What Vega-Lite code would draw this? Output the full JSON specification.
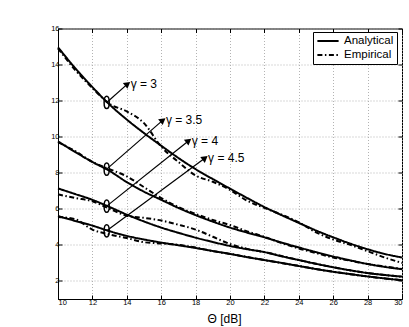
{
  "$schema": "https://vega.github.io/schema/vega-lite/v6.json",
  "width": 344,
  "height": 270.5,
  "autosize": "none",
  "padding": {"left": 58, "top": 28.5, "right": 7, "bottom": 28},
  "background": "white",
  "config": {
    "font": "Liberation Sans",
    "view": {"stroke": "black", "strokeWidth": 1},
    "axis": {
      "domainColor": "black",
      "tickColor": "black",
      "labelColor": "black",
      "labelFontSize": 7.5,
      "labelFont": "Liberation Sans",
      "labelOverlap": false,
      "labelBound": false,
      "tickSize": -4,
      "grid": true,
      "gridColor": "#a0a0a0",
      "gridDash": [1, 2],
      "gridWidth": 0.8,
      "titleColor": "black",
      "titleFontWeight": "normal"
    }
  },
  "resolve": {"axis": {"x": "independent", "y": "independent"}},
  "datasets": {
    "curves": [
      {"x": 10, "y": 14.96, "gamma": "3", "type": "Analytical"},
      {"x": 11, "y": 13.8, "gamma": "3", "type": "Analytical"},
      {"x": 12, "y": 12.75, "gamma": "3", "type": "Analytical"},
      {"x": 13, "y": 11.78, "gamma": "3", "type": "Analytical"},
      {"x": 14, "y": 10.95, "gamma": "3", "type": "Analytical"},
      {"x": 15, "y": 10.2, "gamma": "3", "type": "Analytical"},
      {"x": 16, "y": 9.5, "gamma": "3", "type": "Analytical"},
      {"x": 17, "y": 8.82, "gamma": "3", "type": "Analytical"},
      {"x": 18, "y": 8.2, "gamma": "3", "type": "Analytical"},
      {"x": 19, "y": 7.65, "gamma": "3", "type": "Analytical"},
      {"x": 20, "y": 7.12, "gamma": "3", "type": "Analytical"},
      {"x": 21, "y": 6.6, "gamma": "3", "type": "Analytical"},
      {"x": 22, "y": 6.1, "gamma": "3", "type": "Analytical"},
      {"x": 23, "y": 5.65, "gamma": "3", "type": "Analytical"},
      {"x": 24, "y": 5.22, "gamma": "3", "type": "Analytical"},
      {"x": 25, "y": 4.8, "gamma": "3", "type": "Analytical"},
      {"x": 26, "y": 4.42, "gamma": "3", "type": "Analytical"},
      {"x": 27, "y": 4.07, "gamma": "3", "type": "Analytical"},
      {"x": 28, "y": 3.76, "gamma": "3", "type": "Analytical"},
      {"x": 29, "y": 3.5, "gamma": "3", "type": "Analytical"},
      {"x": 30, "y": 3.3, "gamma": "3", "type": "Analytical"},

      {"x": 10, "y": 9.74, "gamma": "3.5", "type": "Analytical"},
      {"x": 11, "y": 9.15, "gamma": "3.5", "type": "Analytical"},
      {"x": 12, "y": 8.6, "gamma": "3.5", "type": "Analytical"},
      {"x": 13, "y": 8.1, "gamma": "3.5", "type": "Analytical"},
      {"x": 14, "y": 7.48, "gamma": "3.5", "type": "Analytical"},
      {"x": 15, "y": 6.95, "gamma": "3.5", "type": "Analytical"},
      {"x": 16, "y": 6.5, "gamma": "3.5", "type": "Analytical"},
      {"x": 17, "y": 6.05, "gamma": "3.5", "type": "Analytical"},
      {"x": 18, "y": 5.65, "gamma": "3.5", "type": "Analytical"},
      {"x": 19, "y": 5.29, "gamma": "3.5", "type": "Analytical"},
      {"x": 20, "y": 4.96, "gamma": "3.5", "type": "Analytical"},
      {"x": 21, "y": 4.68, "gamma": "3.5", "type": "Analytical"},
      {"x": 22, "y": 4.42, "gamma": "3.5", "type": "Analytical"},
      {"x": 23, "y": 4.13, "gamma": "3.5", "type": "Analytical"},
      {"x": 24, "y": 3.86, "gamma": "3.5", "type": "Analytical"},
      {"x": 25, "y": 3.6, "gamma": "3.5", "type": "Analytical"},
      {"x": 26, "y": 3.36, "gamma": "3.5", "type": "Analytical"},
      {"x": 27, "y": 3.14, "gamma": "3.5", "type": "Analytical"},
      {"x": 28, "y": 2.94, "gamma": "3.5", "type": "Analytical"},
      {"x": 29, "y": 2.78, "gamma": "3.5", "type": "Analytical"},
      {"x": 30, "y": 2.65, "gamma": "3.5", "type": "Analytical"},

      {"x": 10, "y": 7.13, "gamma": "4", "type": "Analytical"},
      {"x": 11, "y": 6.82, "gamma": "4", "type": "Analytical"},
      {"x": 12, "y": 6.5, "gamma": "4", "type": "Analytical"},
      {"x": 13, "y": 6.1, "gamma": "4", "type": "Analytical"},
      {"x": 14, "y": 5.68, "gamma": "4", "type": "Analytical"},
      {"x": 15, "y": 5.3, "gamma": "4", "type": "Analytical"},
      {"x": 16, "y": 4.96, "gamma": "4", "type": "Analytical"},
      {"x": 17, "y": 4.67, "gamma": "4", "type": "Analytical"},
      {"x": 18, "y": 4.4, "gamma": "4", "type": "Analytical"},
      {"x": 19, "y": 4.16, "gamma": "4", "type": "Analytical"},
      {"x": 20, "y": 3.94, "gamma": "4", "type": "Analytical"},
      {"x": 21, "y": 3.76, "gamma": "4", "type": "Analytical"},
      {"x": 22, "y": 3.6, "gamma": "4", "type": "Analytical"},
      {"x": 23, "y": 3.37, "gamma": "4", "type": "Analytical"},
      {"x": 24, "y": 3.16, "gamma": "4", "type": "Analytical"},
      {"x": 25, "y": 2.95, "gamma": "4", "type": "Analytical"},
      {"x": 26, "y": 2.76, "gamma": "4", "type": "Analytical"},
      {"x": 27, "y": 2.59, "gamma": "4", "type": "Analytical"},
      {"x": 28, "y": 2.44, "gamma": "4", "type": "Analytical"},
      {"x": 29, "y": 2.33, "gamma": "4", "type": "Analytical"},
      {"x": 30, "y": 2.24, "gamma": "4", "type": "Analytical"},

      {"x": 10, "y": 5.6, "gamma": "4.5", "type": "Analytical"},
      {"x": 11, "y": 5.33, "gamma": "4.5", "type": "Analytical"},
      {"x": 12, "y": 5.07, "gamma": "4.5", "type": "Analytical"},
      {"x": 13, "y": 4.76, "gamma": "4.5", "type": "Analytical"},
      {"x": 14, "y": 4.5, "gamma": "4.5", "type": "Analytical"},
      {"x": 15, "y": 4.3, "gamma": "4.5", "type": "Analytical"},
      {"x": 16, "y": 4.13, "gamma": "4.5", "type": "Analytical"},
      {"x": 17, "y": 3.98, "gamma": "4.5", "type": "Analytical"},
      {"x": 18, "y": 3.83, "gamma": "4.5", "type": "Analytical"},
      {"x": 19, "y": 3.66, "gamma": "4.5", "type": "Analytical"},
      {"x": 20, "y": 3.5, "gamma": "4.5", "type": "Analytical"},
      {"x": 21, "y": 3.32, "gamma": "4.5", "type": "Analytical"},
      {"x": 22, "y": 3.16, "gamma": "4.5", "type": "Analytical"},
      {"x": 23, "y": 3.0, "gamma": "4.5", "type": "Analytical"},
      {"x": 24, "y": 2.83, "gamma": "4.5", "type": "Analytical"},
      {"x": 25, "y": 2.66, "gamma": "4.5", "type": "Analytical"},
      {"x": 26, "y": 2.51, "gamma": "4.5", "type": "Analytical"},
      {"x": 27, "y": 2.38, "gamma": "4.5", "type": "Analytical"},
      {"x": 28, "y": 2.25, "gamma": "4.5", "type": "Analytical"},
      {"x": 29, "y": 2.14, "gamma": "4.5", "type": "Analytical"},
      {"x": 30, "y": 2.04, "gamma": "4.5", "type": "Analytical"},

      {"x": 10, "y": 14.9, "gamma": "3", "type": "Empirical"},
      {"x": 11, "y": 13.7, "gamma": "3", "type": "Empirical"},
      {"x": 12, "y": 12.7, "gamma": "3", "type": "Empirical"},
      {"x": 13, "y": 11.82, "gamma": "3", "type": "Empirical"},
      {"x": 14, "y": 11.4, "gamma": "3", "type": "Empirical"},
      {"x": 15, "y": 10.75, "gamma": "3", "type": "Empirical"},
      {"x": 16, "y": 9.45, "gamma": "3", "type": "Empirical"},
      {"x": 17, "y": 8.6, "gamma": "3", "type": "Empirical"},
      {"x": 18, "y": 7.85, "gamma": "3", "type": "Empirical"},
      {"x": 19, "y": 7.5, "gamma": "3", "type": "Empirical"},
      {"x": 20, "y": 7.05, "gamma": "3", "type": "Empirical"},
      {"x": 21, "y": 6.45, "gamma": "3", "type": "Empirical"},
      {"x": 22, "y": 6.05, "gamma": "3", "type": "Empirical"},
      {"x": 23, "y": 5.68, "gamma": "3", "type": "Empirical"},
      {"x": 24, "y": 5.25, "gamma": "3", "type": "Empirical"},
      {"x": 25, "y": 4.7, "gamma": "3", "type": "Empirical"},
      {"x": 26, "y": 4.3, "gamma": "3", "type": "Empirical"},
      {"x": 27, "y": 4.0, "gamma": "3", "type": "Empirical"},
      {"x": 28, "y": 3.65, "gamma": "3", "type": "Empirical"},
      {"x": 29, "y": 3.3, "gamma": "3", "type": "Empirical"},
      {"x": 30, "y": 3.0, "gamma": "3", "type": "Empirical"},

      {"x": 10, "y": 9.7, "gamma": "3.5", "type": "Empirical"},
      {"x": 11, "y": 9.2, "gamma": "3.5", "type": "Empirical"},
      {"x": 12, "y": 8.6, "gamma": "3.5", "type": "Empirical"},
      {"x": 13, "y": 8.2, "gamma": "3.5", "type": "Empirical"},
      {"x": 14, "y": 7.8, "gamma": "3.5", "type": "Empirical"},
      {"x": 15, "y": 7.2, "gamma": "3.5", "type": "Empirical"},
      {"x": 16, "y": 6.6, "gamma": "3.5", "type": "Empirical"},
      {"x": 17, "y": 6.1, "gamma": "3.5", "type": "Empirical"},
      {"x": 18, "y": 5.72, "gamma": "3.5", "type": "Empirical"},
      {"x": 19, "y": 5.38, "gamma": "3.5", "type": "Empirical"},
      {"x": 20, "y": 5.1, "gamma": "3.5", "type": "Empirical"},
      {"x": 21, "y": 4.75, "gamma": "3.5", "type": "Empirical"},
      {"x": 22, "y": 4.45, "gamma": "3.5", "type": "Empirical"},
      {"x": 23, "y": 4.1, "gamma": "3.5", "type": "Empirical"},
      {"x": 24, "y": 3.8, "gamma": "3.5", "type": "Empirical"},
      {"x": 25, "y": 3.55, "gamma": "3.5", "type": "Empirical"},
      {"x": 26, "y": 3.3, "gamma": "3.5", "type": "Empirical"},
      {"x": 27, "y": 3.12, "gamma": "3.5", "type": "Empirical"},
      {"x": 28, "y": 2.94, "gamma": "3.5", "type": "Empirical"},
      {"x": 29, "y": 2.8, "gamma": "3.5", "type": "Empirical"},
      {"x": 30, "y": 2.67, "gamma": "3.5", "type": "Empirical"},

      {"x": 10, "y": 6.8, "gamma": "4", "type": "Empirical"},
      {"x": 11, "y": 6.6, "gamma": "4", "type": "Empirical"},
      {"x": 12, "y": 6.42, "gamma": "4", "type": "Empirical"},
      {"x": 13, "y": 6.0, "gamma": "4", "type": "Empirical"},
      {"x": 14, "y": 5.62, "gamma": "4", "type": "Empirical"},
      {"x": 15, "y": 5.5, "gamma": "4", "type": "Empirical"},
      {"x": 16, "y": 5.35, "gamma": "4", "type": "Empirical"},
      {"x": 17, "y": 5.12, "gamma": "4", "type": "Empirical"},
      {"x": 18, "y": 4.85, "gamma": "4", "type": "Empirical"},
      {"x": 19, "y": 4.45, "gamma": "4", "type": "Empirical"},
      {"x": 20, "y": 4.05, "gamma": "4", "type": "Empirical"},
      {"x": 21, "y": 3.78, "gamma": "4", "type": "Empirical"},
      {"x": 22, "y": 3.6, "gamma": "4", "type": "Empirical"},
      {"x": 24, "y": 3.16, "gamma": "4", "type": "Empirical"},
      {"x": 26, "y": 2.76, "gamma": "4", "type": "Empirical"},
      {"x": 28, "y": 2.44, "gamma": "4", "type": "Empirical"},
      {"x": 30, "y": 2.24, "gamma": "4", "type": "Empirical"},

      {"x": 10, "y": 5.55, "gamma": "4.5", "type": "Empirical"},
      {"x": 11, "y": 5.42, "gamma": "4.5", "type": "Empirical"},
      {"x": 12, "y": 4.85, "gamma": "4.5", "type": "Empirical"},
      {"x": 13, "y": 4.58, "gamma": "4.5", "type": "Empirical"},
      {"x": 14, "y": 4.38, "gamma": "4.5", "type": "Empirical"},
      {"x": 15, "y": 4.15, "gamma": "4.5", "type": "Empirical"},
      {"x": 16, "y": 4.08, "gamma": "4.5", "type": "Empirical"},
      {"x": 17, "y": 4.0, "gamma": "4.5", "type": "Empirical"},
      {"x": 18, "y": 3.85, "gamma": "4.5", "type": "Empirical"},
      {"x": 19, "y": 3.66, "gamma": "4.5", "type": "Empirical"},
      {"x": 20, "y": 3.5, "gamma": "4.5", "type": "Empirical"},
      {"x": 22, "y": 3.16, "gamma": "4.5", "type": "Empirical"},
      {"x": 24, "y": 2.83, "gamma": "4.5", "type": "Empirical"},
      {"x": 26, "y": 2.51, "gamma": "4.5", "type": "Empirical"},
      {"x": 28, "y": 2.25, "gamma": "4.5", "type": "Empirical"},
      {"x": 30, "y": 2.04, "gamma": "4.5", "type": "Empirical"}
    ],
    "marks": [
      {"x": 12.83, "y": 11.9, "x2": 14.05, "y2": 12.93, "label": "γ = 3"},
      {"x": 12.83, "y": 8.2, "x2": 16.1, "y2": 10.92, "label": "γ = 3.5"},
      {"x": 12.83, "y": 6.15, "x2": 17.6, "y2": 9.78, "label": "γ = 4"},
      {"x": 12.83, "y": 4.78, "x2": 18.55, "y2": 8.82, "label": "γ = 4.5"}
    ]
  },
  "layer": [
    {
      "data": {"name": "curves"},
      "mark": {"type": "line", "color": "black", "strokeWidth": 2, "interpolate": "monotone"},
      "encoding": {
        "x": {
          "field": "x", "type": "quantitative",
          "scale": {"domain": [10, 30], "nice": false, "zero": false},
          "axis": {"values": [10, 12, 14, 16, 18, 20, 22, 24, 26, 28, 30], "labelOverlap": false, "title": "Θ [dB]", "titleFontSize": 12, "titleFont": "Liberation Sans", "labelPadding": 3, "titleX": 166, "titleY": 23, "titleBaseline": "alphabetic"}
        },
        "y": {
          "field": "y", "type": "quantitative",
          "scale": {"domain": [1, 16], "nice": false, "zero": false},
          "axis": {"values": [2, 4, 6, 8, 10, 12, 14, 16], "labelOverlap": false, "title": null, "labelPadding": 3}
        },
        "detail": {"field": "gamma"},
        "strokeDash": {
          "field": "type", "type": "nominal",
          "scale": {"domain": ["Analytical", "Empirical"], "range": [[1, 0], [5, 2.5, 1.5, 2.5]]},
          "legend": {
            "title": null,
            "orient": "none",
            "legendX": 255,
            "legendY": 3.5,
            "strokeColor": "black",
            "fillColor": "white",
            "padding": 3,
            "labelFontSize": 11.5,
            "labelColor": "black",
            "labelFont": "Liberation Sans",
            "symbolType": "stroke",
            "symbolSize": 450,
            "symbolStrokeWidth": 2,
            "symbolStrokeColor": "black",
            "clipHeight": 12,
            "rowPadding": 2,
            "labelOffset": 4
          }
        }
      }
    },
    {
      "data": {"name": "marks"},
      "mark": {"type": "point", "opacity": 0},
      "encoding": {
        "x": {"field": "x", "type": "quantitative", "axis": {"orient": "top", "values": [10, 12, 14, 16, 18, 20, 22, 24, 26, 28, 30], "labels": false, "grid": false, "domain": false, "title": null}},
        "y": {"field": "y", "type": "quantitative", "axis": {"orient": "right", "values": [2, 4, 6, 8, 10, 12, 14, 16], "labels": false, "grid": false, "domain": false, "title": null}}
      }
    },
    {
      "data": {"name": "marks"},
      "mark": {"type": "point", "shape": "M0,-1A0.42,1,0,1,1,0,1A0.42,1,0,1,1,0,-1Z", "size": 150, "filled": false, "stroke": "black", "strokeWidth": 1.5, "opacity": 1},
      "encoding": {
        "x": {"field": "x", "type": "quantitative", "axis": null},
        "y": {"field": "y", "type": "quantitative", "axis": null}
      }
    },
    {
      "data": {"name": "marks"},
      "mark": {"type": "rule", "color": "black", "strokeWidth": 1.2},
      "encoding": {
        "x": {"field": "x", "type": "quantitative", "axis": null},
        "y": {"field": "y", "type": "quantitative", "axis": null},
        "x2": {"field": "x2"},
        "y2": {"field": "y2"}
      }
    },
    {
      "data": {"name": "marks"},
      "mark": {"type": "point", "shape": "triangle-right", "size": 55, "filled": true, "color": "black", "opacity": 1, "angle": -38},
      "encoding": {
        "x": {"field": "x2", "type": "quantitative", "axis": null},
        "y": {"field": "y2", "type": "quantitative", "axis": null}
      }
    },
    {
      "data": {"name": "marks"},
      "mark": {"type": "text", "align": "left", "baseline": "middle", "dx": 3, "fontSize": 12, "font": "Liberation Sans", "color": "black"},
      "encoding": {
        "x": {"field": "x2", "type": "quantitative", "axis": null},
        "y": {"field": "y2", "type": "quantitative", "axis": null},
        "text": {"field": "label"}
      }
    }
  ]
}
